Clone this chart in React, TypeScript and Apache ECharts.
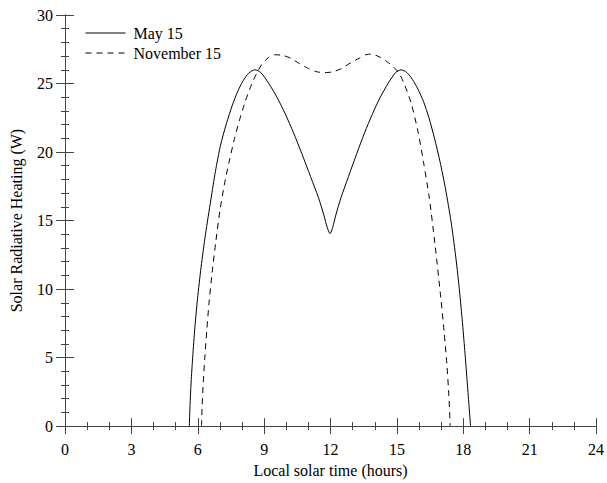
import React, { useEffect, useRef } from "react";
import * as echarts from "echarts";

const seriesNames = ["May 15", "November 15"];

const may15: [number, number][] = [
  [5.62, 0], [5.65, 1.5], [5.7, 3.2], [5.77, 5.0], [5.87, 7.2], [5.99, 9.3],
  [6.15, 11.6], [6.35, 14.0], [6.59, 16.5], [6.8, 18.6], [7.03, 20.5],
  [7.3, 22.1], [7.56, 23.4], [7.8, 24.4], [8.05, 25.2], [8.3, 25.75], [8.58, 26.0],
  [8.85, 25.8], [9.21, 25.0], [9.58, 24.0], [9.95, 22.8], [10.33, 21.4],
  [10.7, 19.9], [11.1, 18.2], [11.45, 16.7], [11.7, 15.4], [11.85, 14.5],
  [11.98, 14.05],
  [12.1, 14.5], [12.24, 15.4], [12.48, 16.7], [12.81, 18.2], [13.19, 19.9],
  [13.54, 21.4], [13.9, 22.8], [14.25, 24.0], [14.6, 25.0], [14.94, 25.8], [15.19, 26.0],
  [15.45, 25.8], [15.7, 25.3], [15.95, 24.6], [16.2, 23.7], [16.45, 22.5],
  [16.7, 21.0], [16.95, 19.3], [17.2, 17.3], [17.45, 14.9], [17.65, 12.5],
  [17.81, 10.2], [17.95, 7.8], [18.07, 5.5], [18.17, 3.4], [18.26, 1.5], [18.33, 0],
];

const nov15: [number, number][] = [
  [6.17, 0], [6.2, 1.5], [6.25, 3.2], [6.32, 5.0], [6.41, 7.0], [6.51, 9.0],
  [6.65, 11.2], [6.82, 13.5], [7.0, 15.7], [7.2, 17.6], [7.42, 19.3],
  [7.65, 20.9], [7.9, 22.4], [8.15, 23.7], [8.4, 24.8], [8.65, 25.7],
  [8.9, 26.4], [9.2, 26.9], [9.5, 27.1],
  [9.85, 27.05], [10.2, 26.85], [10.6, 26.45], [11.0, 26.1], [11.4, 25.85],
  [11.75, 25.8], [12.1, 25.85], [12.5, 26.1], [12.9, 26.5], [13.3, 26.85],
  [13.6, 27.1], [13.84, 27.15],
  [14.2, 26.95], [14.55, 26.6], [14.85, 26.2], [15.1, 25.75], [15.35, 24.9],
  [15.64, 23.6], [15.94, 21.6], [16.2, 19.3], [16.47, 16.6], [16.72, 13.3],
  [16.99, 9.3], [17.14, 6.8], [17.26, 4.5], [17.35, 2.2], [17.41, 0],
];

const FONT = "Liberation Serif";

export default function App() {
  const ref = useRef<HTMLDivElement>(null);
  useEffect(() => {
    if (!ref.current) return;
    const chart = echarts.init(ref.current, undefined, { renderer: "svg" });
    const axisLine = { show: true, lineStyle: { color: "#444", width: 1 } };
    const xBase = {
      type: "value" as const,
      min: 0,
      max: 24,
      interval: 3,
      axisLine,
      splitLine: { show: false },
      axisTick: { show: true, length: 8, lineStyle: { color: "#444" } },
      minorTick: { show: true, splitNumber: 3, length: 4, lineStyle: { color: "#444" } },
    };
    const yBase = {
      type: "value" as const,
      min: 0,
      max: 30,
      interval: 5,
      axisLine,
      splitLine: { show: false },
      axisTick: { show: true, length: 9, lineStyle: { color: "#444" } },
      minorTick: { show: true, splitNumber: 5, length: 4, lineStyle: { color: "#444" } },
    };
    chart.setOption({
      animation: false,
      backgroundColor: "#fff",
      grid: { left: 65, right: 5, top: 15, bottom: 55, containLabel: false },
      legend: {
        orient: "vertical",
        left: 80,
        top: 20,
        itemWidth: 40,
        itemHeight: 14,
        itemGap: 4,
        data: seriesNames,
        itemStyle: { opacity: 0 },
        lineStyle: { width: 1 },
        textStyle: { fontFamily: FONT, fontSize: 16, color: "#000", padding: [0, 0, 0, 3] },
      },
      xAxis: [
        {
          ...xBase,
          position: "bottom",
          name: "Local solar time (hours)",
          nameLocation: "middle",
          nameGap: 32,
          nameTextStyle: { fontFamily: FONT, fontSize: 16, color: "#000" },
          axisLabel: { fontFamily: FONT, fontSize: 16, color: "#000", margin: 15 },
        },
        { ...xBase, position: "top", axisLabel: { show: false } },
      ],
      yAxis: [
        {
          ...yBase,
          position: "left",
          name: "Solar Radiative Heating (W)",
          nameLocation: "middle",
          nameGap: 41,
          nameTextStyle: { fontFamily: FONT, fontSize: 16, color: "#000" },
          axisLabel: { fontFamily: FONT, fontSize: 16, color: "#000", margin: 12 },
        },
        { ...yBase, position: "right", axisLabel: { show: false } },
      ],
      series: [
        {
          name: seriesNames[0],
          type: "line",
          data: may15,
          smooth: 0.25,
          symbol: "none",
          lineStyle: { color: "#000", width: 1 },
          itemStyle: { color: "#000" },
        },
        {
          name: seriesNames[1],
          type: "line",
          data: nov15,
          smooth: 0.25,
          symbol: "none",
          lineStyle: { color: "#000", width: 1, type: [6, 5] },
          itemStyle: { color: "#000" },
        },
      ],
    });
    return () => chart.dispose();
  }, []);
  return <div ref={ref} style={{ width: 607, height: 483, position: "absolute", left: 0, top: 0 }} />;
}
